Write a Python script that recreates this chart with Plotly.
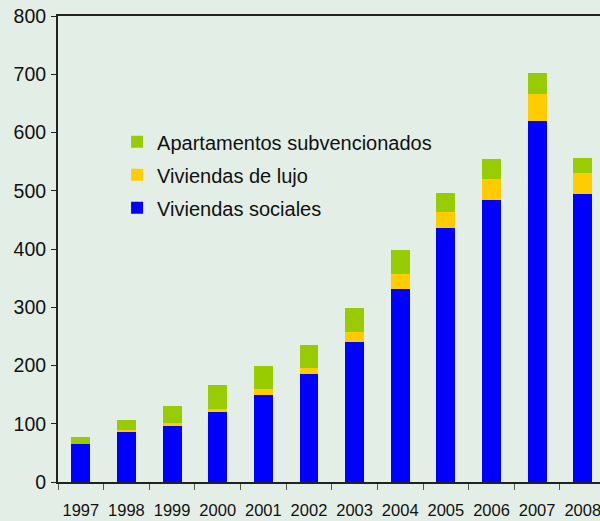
import plotly.graph_objects as go

years = ["1997", "1998", "1999", "2000", "2001", "2002", "2003", "2004", "2005", "2006", "2007", "2008"]
viviendas_sociales = [65, 87, 97, 121, 149, 185, 241, 332, 436, 484, 619, 494]
viviendas_lujo = [0, 3, 5, 5, 10, 10, 16, 25, 27, 36, 47, 36]
apartamentos_subv = [13, 17, 28, 40, 41, 41, 41, 41, 33, 34, 36, 27]

series = [
    ("Viviendas sociales", viviendas_sociales, "#0000FF", 3),
    ("Viviendas de lujo", viviendas_lujo, "#FFCC00", 2),
    ("Apartamentos subvencionados", apartamentos_subv, "#99CC00", 1),
]

fig = go.Figure()
for name, vals, col, rank in series:
    fig.add_trace(go.Bar(x=years, y=vals, name=name, marker_color=col,
                         marker_line_width=0, legendgroup=name, legendrank=rank))

BG = "#E3EFE6"
fig.update_layout(
    width=600, height=521,
    barmode="stack", bargap=0.585,
    paper_bgcolor=BG, plot_bgcolor=BG,
    margin=dict(l=58, r=0, t=16, b=39),
    font=dict(family="Arial, Liberation Sans, sans-serif", color="#111111"),
    legend=dict(x=0.109, y=0.772, xanchor="left", yanchor="top",
                bgcolor="rgba(0,0,0,0)", font=dict(size=20),
                traceorder="grouped", tracegroupgap=4),
    showlegend=True,
)
fig.update_xaxes(
    type="category", range=[-0.5, 11.378], automargin=False, tickangle=0,
    showline=True, linecolor="#222222", linewidth=2, mirror=True,
    ticks="outside", tickson="boundaries", ticklen=6, tickcolor="#555555",
    tickfont=dict(size=16.5), showgrid=False, zeroline=False,
    ticklabelstandoff=12,
)
fig.update_yaxes(
    range=[0, 800], dtick=100, automargin=False,
    showline=True, linecolor="#222222", linewidth=2,
    ticks="outside", ticklen=5, tickcolor="#222222",
    tickfont=dict(size=19.5), showgrid=False, zeroline=False,
    ticklabelstandoff=1,
)

fig.write_html("out.html", config={"displayModeBar": False},
               post_script="document.body.style.margin='0px';document.body.style.overflow='hidden';")
